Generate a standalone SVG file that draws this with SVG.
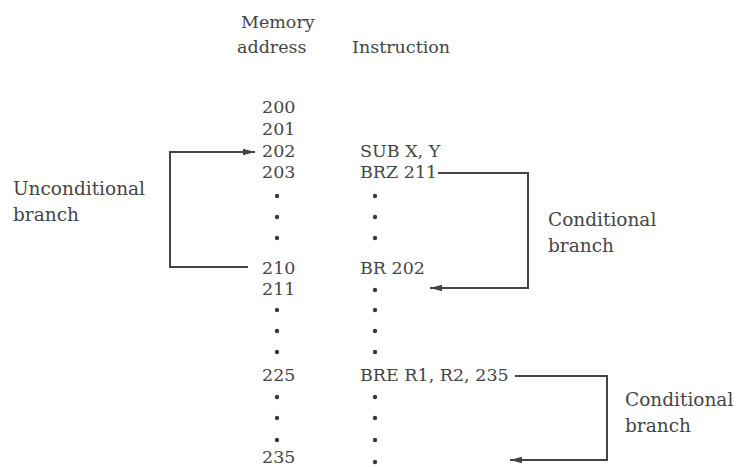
<svg xmlns="http://www.w3.org/2000/svg" width="739" height="467" viewBox="0 0 739 467">
  <defs>
    <style>
      text { font-family: "DejaVu Serif", "Liberation Serif", serif; font-size: 17.5px; fill: #454545; }
      .lbl { font-size: 18.5px; }
      .dot { fill: #3a3a3a; }
      .conn { fill: none; stroke: #444; stroke-width: 2; }
    </style>
    <marker id="arr" viewBox="0 0 12 8" refX="12" refY="4" markerWidth="12" markerHeight="8" markerUnits="userSpaceOnUse" orient="auto">
      <path d="M0,0.8 L12,4 L0,7.2 Z" fill="#444"/>
    </marker>
  </defs>
  <rect width="739" height="467" fill="#ffffff"/>

  <g id="headers">
    <text x="241" y="28">Memory</text>
    <text x="237" y="53">address</text>
    <text x="352" y="53">Instruction</text>
  </g>

  <g id="addresses">
    <text x="262" y="113">200</text>
    <text x="262" y="135">201</text>
    <text x="262" y="157">202</text>
    <text x="262" y="178">203</text>
    <circle class="dot" cx="277" cy="196" r="2.2"/>
    <circle class="dot" cx="277" cy="217" r="2.2"/>
    <circle class="dot" cx="277" cy="238" r="2.2"/>
    <text x="262" y="274">210</text>
    <text x="262" y="295">211</text>
    <circle class="dot" cx="277" cy="310" r="2.2"/>
    <circle class="dot" cx="277" cy="331" r="2.2"/>
    <circle class="dot" cx="277" cy="352" r="2.2"/>
    <text x="262" y="381">225</text>
    <circle class="dot" cx="277" cy="397" r="2.2"/>
    <circle class="dot" cx="277" cy="418" r="2.2"/>
    <circle class="dot" cx="277" cy="440" r="2.2"/>
    <text x="262" y="463">235</text>
  </g>

  <g id="instructions">
    <text x="360" y="157">SUB X, Y</text>
    <text x="360" y="178">BRZ 211</text>
    <circle class="dot" cx="375" cy="196" r="2.2"/>
    <circle class="dot" cx="375" cy="217" r="2.2"/>
    <circle class="dot" cx="375" cy="238" r="2.2"/>
    <text x="360" y="274">BR 202</text>
    <circle class="dot" cx="375" cy="290" r="2.2"/>
    <circle class="dot" cx="375" cy="310" r="2.2"/>
    <circle class="dot" cx="375" cy="331" r="2.2"/>
    <circle class="dot" cx="375" cy="352" r="2.2"/>
    <text x="360" y="381">BRE R1, R2, 235</text>
    <circle class="dot" cx="375" cy="397" r="2.2"/>
    <circle class="dot" cx="375" cy="418" r="2.2"/>
    <circle class="dot" cx="375" cy="440" r="2.2"/>
    <circle class="dot" cx="375" cy="462" r="2.2"/>
  </g>

  <g id="label-unconditional">
    <text class="lbl" x="13" y="195">Unconditional</text>
    <text class="lbl" x="13" y="221">branch</text>
  </g>
  <g id="label-conditional-1">
    <text class="lbl" x="548" y="226">Conditional</text>
    <text class="lbl" x="548" y="252">branch</text>
  </g>
  <g id="label-conditional-2">
    <text class="lbl" x="625" y="406">Conditional</text>
    <text class="lbl" x="625" y="432">branch</text>
  </g>

  <g id="connectors">
    <path class="conn" d="M248,267 H170 V152 H255" marker-end="url(#arr)"/>
    <path class="conn" d="M438,173 H528 V288 H430" marker-end="url(#arr)"/>
    <path class="conn" d="M515,376 H607 V460 H510" marker-end="url(#arr)"/>
  </g>
</svg>
